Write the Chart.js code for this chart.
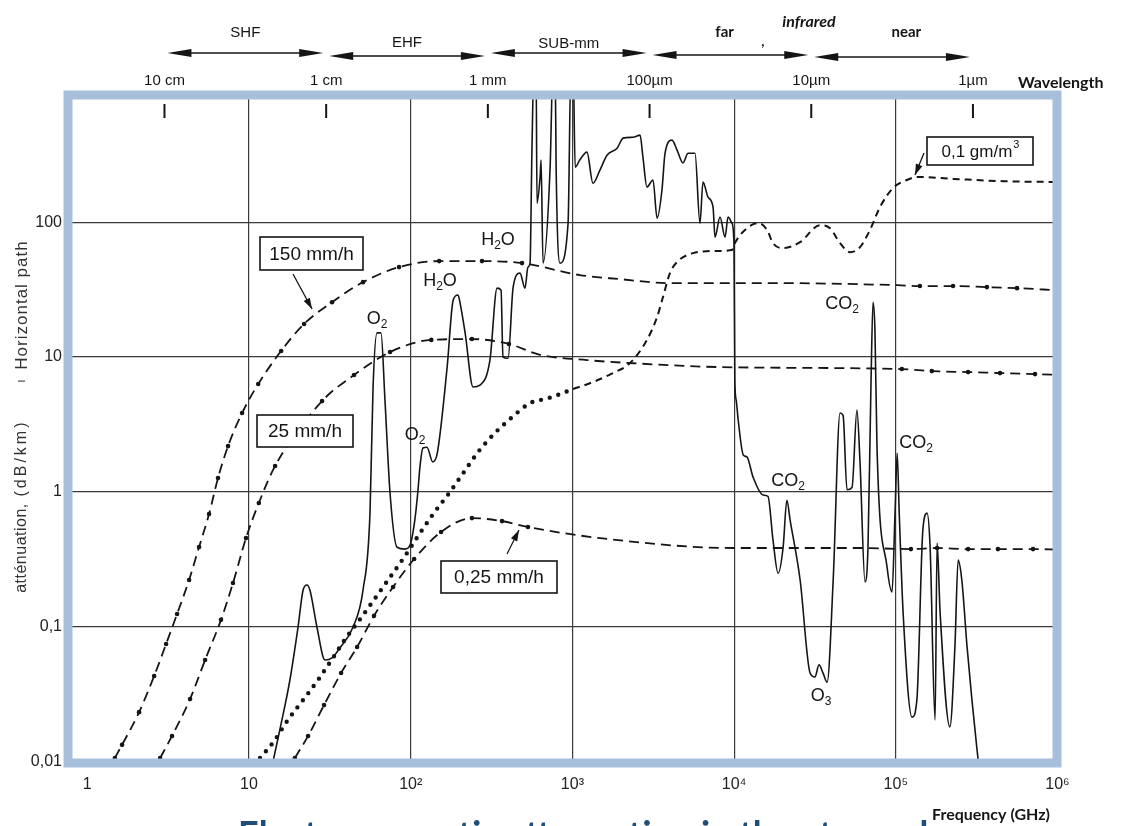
<!DOCTYPE html>
<html>
<head>
<meta charset="utf-8">
<title>Atmospheric attenuation</title>
<script src="https://cdn.jsdelivr.net/npm/chart.js@4.4.1/dist/chart.umd.min.js"></script>
<style>
  html, body { margin: 0; padding: 0; background: #fff; }
  canvas { display: block; }
</style>
</head>
<body>
<canvas id="chart" width="1126" height="826"></canvas>
<script>
// axis ticks
const freqTicks = [1, 10, 100, 1e3, 1e4, 1e5, 1e6];
const freqLabels = ['1', '10', '10²', '10³', '10⁴', '10⁵', '10⁶'];
const attTicks = [0.01, 0.1, 1, 10, 100];
const attLabels = ['0,01', '0,1', '1', '10', '100'];

// wavelength scale along the top
const wlFreq = [3, 30, 300, 3000, 30000, 300000];
const wlLabels = ['10 cm', '1 cm', '1 mm', '100µm', '10µm', '1µm'];
const bandNames = ['SHF', 'EHF', 'SUB-mm', 'far', 'near'];
const bandFrom = [3, 30, 300, 3000, 30000];
const bandTo = [30, 300, 3000, 30000, 300000];

// clear air absorption (solid line), GHz / dB/km
const solidFreq = [13.5, 15.6, 17.9, 20.1, 21.6, 22.8, 23.8, 26.3, 29.5, 32.6,
  36.5, 44.0, 50.7, 56.0, 58.5, 61.9, 65.5, 69.3, 74.5, 82.3,
  92.2, 99.1, 106, 111, 114, 119, 126, 137, 146, 168,
  183, 196, 202, 217, 243, 268, 309, 342, 362, 372,
  400, 430, 474, 509, 531, 547, 562, 579, 596, 604,
  631, 640, 658, 728, 759, 782, 793, 838, 940, 980,
  1010, 1040, 1110, 1230, 1340, 1480, 1640, 1890, 2060, 2370,
  2620, 2730, 2890, 3150, 3340, 3580, 3740, 4130, 4440, 4830,
  5190, 5730, 6150, 6420, 6900, 7410, 7620, 8180, 8790, 9170,
  9700, 9980, 10100, 10300, 10600, 11400, 12000, 13100, 15100, 16200,
  17400, 18700, 20100, 21200, 22200, 25600, 29500, 31600, 33500, 35500,
  37600, 41000, 45200, 47200, 49900, 53600, 57500, 60100, 64500, 67300,
  70300, 72300, 74300, 76500, 88300, 94800, 98900, 102000, 105000, 111000,
  126000, 135000, 147000, 156000, 163000, 175000, 180000, 188000, 216000, 232000,
  243000, 256000, 276000, 318000, 332000];
const solidAtt = [0.008, 0.0179, 0.0405, 0.1, 0.188, 0.205, 0.188, 0.1, 0.057, 0.059,
  0.070, 0.1, 0.188, 0.698, 6.0, 15.1, 15.1, 4.8, 0.98, 0.39,
  0.378, 0.405, 0.62, 1.04, 1.53, 2.12, 2.15, 1.67, 1.94, 8.43,
  26.4, 28.8, 25.1, 15.1, 6.0, 6.2, 9.5, 32.4, 31.3, 10,
  9.8, 33.0, 41.9, 32.4, 46.4, 49.7, 341, 1500, 1500, 138,
  216, 288, 49.7, 255, 1500, 1500, 255, 49.7, 98, 1500,
  1500, 255, 288, 330, 194, 243, 314, 353, 419, 425,
  441, 303, 182, 205, 107, 173, 324, 405, 341, 274,
  324, 324, 98, 198, 153, 129, 77.4, 109, 77.4, 109,
  98, 69.8, 6.76, 4.8, 3.41, 1.88, 1.82, 1.29, 0.95, 0.93,
  0.44, 0.25, 0.39, 0.87, 0.62, 0.223, 0.0456, 0.0426, 0.0524, 0.0456,
  0.039, 0.223, 3.85, 3.7, 1.04, 1.08, 4.05, 1.64, 0.216, 0.39,
  6.76, 25.5, 15.8, 2.15, 0.278, 0.182, 0.698, 1.94, 0.698, 0.127,
  0.0215, 0.0288, 0.524, 0.698, 0.39, 0.0205, 0.419, 0.127, 0.0182, 0.071,
  0.313, 0.223, 0.071, 0.0123, 0.008];

// rain curves
const rain150Freq = [1.48, 1.64, 2.09, 2.59, 3.07, 3.59, 4.26, 4.91, 5.66, 6.43, 7.42, 9.06, 11.4, 15.8, 21.9, 32.6,
  50.7, 84.7, 150, 276, 488, 1110, 1970, 4010, 19200, 102000, 141000, 226000, 366000, 562000, 993000];
const rain150Att = [0.0107, 0.0134, 0.0234, 0.0434, 0.0748, 0.125, 0.223, 0.392, 0.687, 1.27, 2.19, 3.85, 6.31, 11.1, 17.6, 25.5,
  35.9, 46.4, 51.4, 51.4, 49.7, 40.5, 37.8, 35.3, 35.3, 34.1, 33.6, 33.6, 33.0, 32.4, 31.3];

const rain25Freq = [2.82, 3.34, 4.32, 5.35, 6.71, 7.96, 9.58, 11.5, 14.5, 28.3, 44.6, 74.5, 134, 239, 405, 631,
  1230, 2270, 8180, 109000, 167000, 280000, 441000, 726000, 993000];
const rain25Att = [0.0107, 0.0156, 0.0293, 0.057, 0.113, 0.212, 0.456, 0.83, 1.56, 4.72, 7.36, 10.9, 13.4, 13.6, 12.5, 10.4,
  9.5, 9.03, 8.43, 8.15, 7.87, 7.74, 7.61, 7.48, 7.4];

const rain025Freq = [19.2, 23.2, 29.1, 37.1, 46.6, 59.3, 77.8, 105, 154, 239, 367, 531, 1480, 9840, 60100,
  124000, 180000, 280000, 428000, 706000, 993000];
const rain025Att = [0.0107, 0.0156, 0.0264, 0.0456, 0.0711, 0.121, 0.198, 0.319, 0.506, 0.641, 0.609, 0.551, 0.456, 0.385, 0.385,
  0.378, 0.385, 0.378, 0.378, 0.378, 0.375];

// dotted curve, then fog 0,1 g/m3 (dashed)
const vapourFreq = [11.7, 14.3, 17.4, 21.6, 26.7, 33.0, 39.8, 49.3, 61.0, 74.5, 92.2, 112, 139, 173, 211, 261,
  332, 424, 547, 631, 746, 1010];
const vapourAtt = [0.0107, 0.0143, 0.0205, 0.0288, 0.0405, 0.059, 0.083, 0.117, 0.167, 0.234, 0.336, 0.48, 0.698, 0.984, 1.38, 1.98,
  2.74, 3.59, 4.56, 4.80, 5.06, 5.80];

const fogFreq = [1010, 1340, 1780, 2270, 2890, 3340, 3630, 4010, 4440, 5570, 7410, 9700, 10100, 12000, 14100, 16000,
  17400, 20000, 25600, 34000, 39200, 45200, 52100, 60100, 69200, 79800, 96100, 117000, 135000, 226000, 460000, 993000];
const fogAtt = [5.80, 6.53, 7.61, 9.03, 13.4, 19.8, 27.8, 41.9, 50.6, 58.9, 61.0, 62.1, 69.8, 90.2, 98.3, 87.3,
  69.8, 64.1, 71.1, 95.0, 90.2, 69.8, 59.9, 65.3, 87.3, 129, 179, 205, 216, 209, 201, 198];

const INK = '#151515';
const FRAME = '#a8bfdc';
const SANS = '"Liberation Sans", Arial, sans-serif';

function pts(xs, ys) {
    return xs.map((x, i) => ({ x: x, y: ys[i] }));
}

// dots only on the rising part and far right of a rain curve
function markers(upTo, from) {
    return c => (c.raw && (c.raw.x <= upTo || c.raw.x >= from)) ? 2.3 : 0;
}

function dashed(data, upTo, from) {
    return {
        data: data,
        borderColor: INK,
        borderWidth: 1.8,
        borderDash: [10, 6],
        cubicInterpolationMode: 'monotone',
        pointRadius: markers(upTo, from),
        pointBackgroundColor: INK,
        pointBorderWidth: 0
    };
}

function arrowHead(ctx, x, y, dir, len, half) {
    ctx.beginPath();
    ctx.moveTo(x, y);
    ctx.lineTo(x - dir * len, y - half);
    ctx.lineTo(x - dir * len, y + half);
    ctx.closePath();
    ctx.fill();
}

function pointer(ctx, x0, y0, x1, y1) {
    const ang = Math.atan2(y1 - y0, x1 - x0);
    ctx.beginPath();
    ctx.moveTo(x0, y0);
    ctx.lineTo(x1, y1);
    ctx.stroke();
    ctx.save();
    ctx.translate(x1, y1);
    ctx.rotate(ang);
    arrowHead(ctx, 0, 0, 1, 11, 3.5);
    ctx.restore();
}

// chemical formula with subscripts, centred on x
function chem(ctx, x, y, parts) {
    const big = '18px ' + SANS;
    const small = '12px ' + SANS;
    let w = 0;
    parts.forEach(p => { ctx.font = p[1] ? small : big; w += ctx.measureText(p[0]).width; });
    let cx = x - w / 2;
    ctx.textAlign = 'left';
    ctx.textBaseline = 'middle';
    parts.forEach(p => {
        ctx.font = p[1] ? small : big;
        ctx.fillText(p[0], cx, p[1] ? y + 6 : y);
        cx += ctx.measureText(p[0]).width;
    });
}

function boxLabel(ctx, text, sup, x, y, w, h, size) {
    ctx.fillStyle = '#fff';
    ctx.fillRect(x, y, w, h);
    ctx.strokeStyle = INK;
    ctx.lineWidth = 1.6;
    ctx.strokeRect(x, y, w, h);
    ctx.fillStyle = INK;
    ctx.font = size + 'px ' + SANS;
    ctx.textBaseline = 'middle';
    ctx.textAlign = 'left';
    const tw = ctx.measureText(text).width;
    let sw = 0;
    if (sup) {
        ctx.font = '11px ' + SANS;
        sw = ctx.measureText(sup).width;
        ctx.font = size + 'px ' + SANS;
    }
    const sx = x + (w - tw - sw) / 2;
    ctx.fillText(text, sx, y + h / 2 + 1);
    if (sup) {
        ctx.font = '11px ' + SANS;
        ctx.fillText(sup, sx + tw + 1, y + h / 2 - 6);
    }
}

const decor = {
    id: 'decor',
    afterDatasetsDraw(chart) {
        const ctx = chart.ctx;
        const a = chart.chartArea;
        ctx.save();
        ctx.strokeStyle = FRAME;
        ctx.lineWidth = 9;
        ctx.strokeRect(a.left - 4, a.top - 2, a.right - a.left + 3.5, a.bottom - a.top + 3);
        ctx.restore();
    },
    afterDraw(chart) {
        const ctx = chart.ctx;
        const a = chart.chartArea;
        const xs = chart.scales.x;
        ctx.save();
        ctx.fillStyle = INK;
        ctx.strokeStyle = INK;

        // wavelength ticks and labels
        ctx.lineWidth = 2;
        ctx.font = '15px ' + SANS;
        ctx.textAlign = 'center';
        ctx.textBaseline = 'middle';
        wlFreq.forEach((f, i) => {
            const px = xs.getPixelForValue(f);
            ctx.beginPath();
            ctx.moveTo(px, a.top + 7);
            ctx.lineTo(px, a.top + 21);
            ctx.stroke();
            ctx.fillText(wlLabels[i], px, 81);
        });
        ctx.font = 'bold 16px Lato, sans-serif';
        ctx.textAlign = 'left';
        ctx.fillText('Wavelength', 1018, 83);

        // band arrows
        const lineY = [53, 56, 53, 55, 57];
        const textY = [33, 43, 44, 32, 32];
        bandNames.forEach((name, i) => {
            const x0 = xs.getPixelForValue(bandFrom[i]) + 3;
            const x1 = xs.getPixelForValue(bandTo[i]) - 3;
            ctx.lineWidth = 1.3;
            ctx.beginPath();
            ctx.moveTo(x0 + 10, lineY[i]);
            ctx.lineTo(x1 - 10, lineY[i]);
            ctx.stroke();
            arrowHead(ctx, x0, lineY[i], -1, 24, 4);
            arrowHead(ctx, x1, lineY[i], 1, 24, 4);
            ctx.textAlign = 'center';
            ctx.font = i < 3 ? '15px ' + SANS : 'bold 15px Lato, sans-serif';
            ctx.fillText(name, i === 3 ? x0 + 72 : (i === 4 ? x0 + 92 : (x0 + x1) / 2), textY[i]);
        });
        ctx.font = 'italic bold 16px Lato, sans-serif';
        ctx.textAlign = 'center';
        ctx.fillText('infrared', 809, 22);
        ctx.font = 'bold 14px Lato, sans-serif';
        ctx.fillText(',', 763, 41);

        // y axis title
        ctx.fillStyle = '#333';
        const title = [
            ['atténuation,', 548, '16px ' + SANS, '0.5px'],
            ['(dB/km)', 458, '16px ' + SANS, '3px'],
            ['ı', 381, '12px ' + SANS, '0px'],
            ['Horizontal path', 305, '17px ' + SANS, '1px']
        ];
        title.forEach(t => {
            ctx.save();
            ctx.translate(22, t[1]);
            ctx.rotate(-Math.PI / 2);
            ctx.font = t[2];
            ctx.letterSpacing = t[3];
            ctx.textAlign = 'center';
            ctx.fillText(t[0], 0, 0);
            ctx.restore();
        });

        // x axis title
        ctx.fillStyle = INK;
        ctx.font = 'bold 16px Lato, sans-serif';
        ctx.textAlign = 'left';
        ctx.fillText('Frequency (GHz)', 932, 815);

        // curve labels
        boxLabel(ctx, '150 mm/h', '', 260, 237, 103, 33, 19);
        boxLabel(ctx, '25 mm/h', '', 257, 415, 96, 32, 19);
        boxLabel(ctx, '0,25 mm/h', '', 441, 561, 116, 32, 19);
        boxLabel(ctx, '0,1 gm/m', '3', 927, 137, 106, 28, 17);
        ctx.lineWidth = 1.3;
        pointer(ctx, 293, 274, 312, 309);
        pointer(ctx, 507, 554, 519, 530);
        pointer(ctx, 924, 153, 915, 175);

        chem(ctx, 498, 240, [['H', 0], ['2', 1], ['O', 0]]);
        chem(ctx, 440, 281, [['H', 0], ['2', 1], ['O', 0]]);
        chem(ctx, 377, 319, [['O', 0], ['2', 1]]);
        chem(ctx, 415, 435, [['O', 0], ['2', 1]]);
        chem(ctx, 842, 304, [['CO', 0], ['2', 1]]);
        chem(ctx, 788, 481, [['CO', 0], ['2', 1]]);
        chem(ctx, 916, 443, [['CO', 0], ['2', 1]]);
        chem(ctx, 821, 696, [['O', 0], ['3', 1]]);

        // slide title cut off at the bottom edge
        ctx.fillStyle = '#1f4e79';
        ctx.font = 'bold 36px Lato, sans-serif';
        ctx.textAlign = 'left';
        ctx.textBaseline = 'alphabetic';
        ctx.fillText('Electromagnetic attenuation in the atmosphere', 238, 847);
        ctx.restore();
    }
};

new Chart(document.getElementById('chart'), {
    type: 'line',
    data: {
        datasets: [
            {
                data: pts(solidFreq, solidAtt),
                borderColor: INK,
                borderWidth: 1.6,
                cubicInterpolationMode: 'monotone',
                pointRadius: 0
            },
            dashed(pts(rain150Freq, rain150Att), 500, 130000),
            dashed(pts(rain25Freq, rain25Att), 410, 100000),
            dashed(pts(rain025Freq, rain025Att), 540, 110000),
            {
                data: pts(vapourFreq, vapourAtt),
                borderColor: INK,
                borderWidth: 4.4,
                borderDash: [0, 9],
                borderCapStyle: 'round',
                cubicInterpolationMode: 'monotone',
                pointRadius: 0
            },
            {
                data: pts(fogFreq, fogAtt),
                borderColor: INK,
                borderWidth: 2,
                borderDash: [7, 5],
                cubicInterpolationMode: 'monotone',
                pointRadius: 0
            }
        ]
    },
    options: {
        responsive: false,
        animation: false,
        events: [],
        layout: { padding: { top: 97, right: 68.5, bottom: 0, left: 0 } },
        plugins: {
            legend: { display: false },
            tooltip: { enabled: false }
        },
        scales: {
            x: {
                type: 'logarithmic',
                min: 0.804,
                max: 1e6,
                afterBuildTicks: s => { s.ticks = freqTicks.map(v => ({ value: v })); },
                afterFit: s => { s.height = 64; },
                border: { display: false },
                grid: {
                    drawTicks: false,
                    lineWidth: 1.2,
                    color: c => (c.tick && c.tick.value > 1 && c.tick.value < 1e6) ? '#3a3a3a' : 'transparent'
                },
                ticks: {
                    autoSkip: false,
                    maxRotation: 0,
                    padding: 13,
                    color: '#222',
                    font: { family: SANS, size: 16 },
                    callback: v => freqLabels[freqTicks.indexOf(v)]
                }
            },
            y: {
                type: 'logarithmic',
                min: 0.01,
                max: 845,
                afterBuildTicks: s => { s.ticks = attTicks.map(v => ({ value: v })); },
                afterFit: s => { s.width = 72; },
                border: { display: false },
                grid: {
                    drawTicks: false,
                    lineWidth: 1.2,
                    color: c => (c.tick && c.tick.value > 0.01) ? '#3a3a3a' : 'transparent'
                },
                ticks: {
                    autoSkip: false,
                    padding: 10,
                    color: '#222',
                    font: { family: SANS, size: 16 },
                    callback: v => attLabels[attTicks.indexOf(v)]
                }
            }
        }
    },
    plugins: [decor]
});
</script>
</body>
</html>
